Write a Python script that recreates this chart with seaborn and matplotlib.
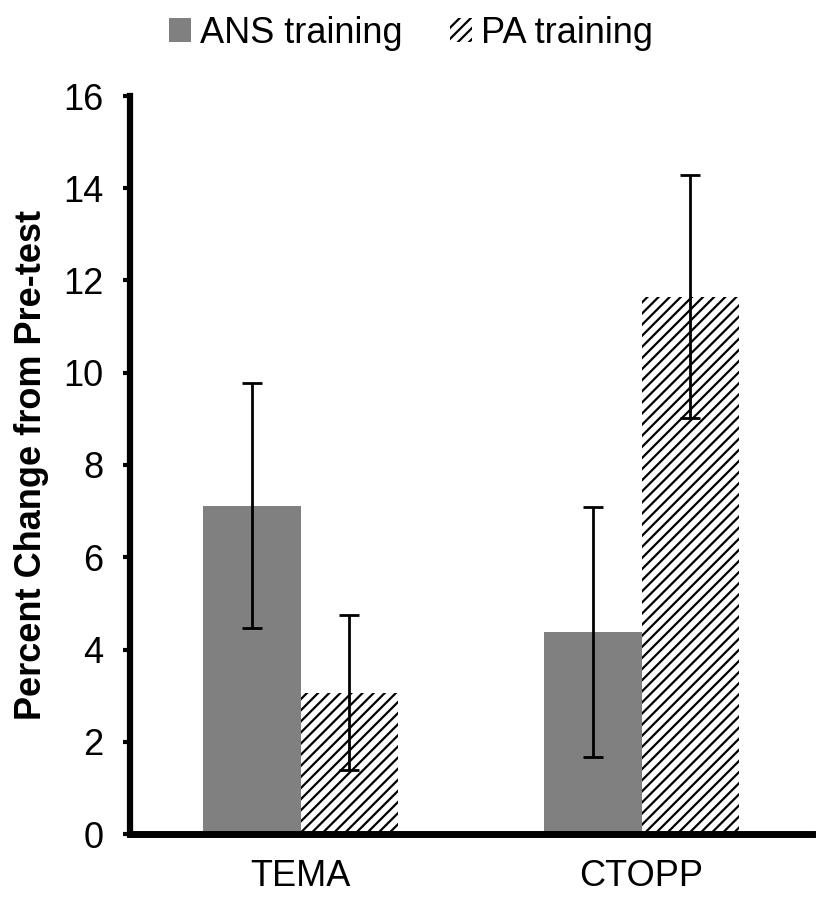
import numpy as np
import pandas as pd
import matplotlib
matplotlib.use('Agg')
import matplotlib.pyplot as plt
import seaborn as sns

# values
tests = ['TEMA', 'CTOPP']
groups = ['ANS training', 'PA training']
ans_mean = [7.12, 4.38]
pa_mean = [3.06, 11.65]
ans_err = [2.66, 2.72]
pa_err = [1.68, 2.63]
yticks = [0, 2, 4, 6, 8, 10, 12, 14, 16]

sns.set_style('white')
plt.rcParams['font.family'] = ['Liberation Sans', 'DejaVu Sans']
plt.rcParams['hatch.linewidth'] = 1.6
plt.rcParams['text.color'] = 'black'
plt.rcParams['axes.labelcolor'] = 'black'
plt.rcParams['xtick.color'] = 'black'
plt.rcParams['ytick.color'] = 'black'

df = pd.DataFrame({
    'test': tests * 2,
    'group': [groups[0]] * 2 + [groups[1]] * 2,
    'value': ans_mean + pa_mean,
})

fig, ax = plt.subplots(figsize=(8.27, 9.05), dpi=100)
fig.subplots_adjust(left=130 / 827, right=812 / 827, bottom=1 - 834 / 905, top=1 - 96 / 905)

sns.barplot(data=df, x='test', y='value', hue='group', order=tests, hue_order=groups,
            palette=['#808080', 'white'], width=0.57, errorbar=None, ax=ax, saturation=1)

# style bars: PA bars get dense diagonal hatch
for cont, g in zip(ax.containers, groups):
    for p in cont:
        p.set_linewidth(0)
        if g == 'PA training':
            p.set_hatch('///')
            p.set_edgecolor('black')

# error bars at bar centres
for cont, e in zip(ax.containers, [ans_err, pa_err]):
    xs = [p.get_x() + p.get_width() / 2 for p in cont]
    hs = [p.get_height() for p in cont]
    ax.errorbar(xs, hs, yerr=e, fmt='none', ecolor='black', elinewidth=2,
                capsize=7, capthick=2, zorder=5)

ax.set_ylim(0, 16)
ax.set_xlim(-0.5, 1.5)
ax.set_yticks(yticks)
ax.set_yticklabels([str(t) for t in yticks], fontsize=26)
ax.tick_params(axis='x', labelsize=26, length=0, pad=18)
ax.tick_params(axis='y', length=5, width=3, direction='out', left=True, pad=14)
ax.set_xlabel('')
ax.set_ylabel('Percent Change from Pre-test', fontsize=26, fontweight='bold', labelpad=10)

sns.despine(ax=ax)
ax.spines['left'].set_linewidth(4.5)
ax.spines['bottom'].set_linewidth(5)
ax.spines['left'].set_color('black')
ax.spines['bottom'].set_color('black')

leg = ax.legend(loc='center', bbox_to_anchor=(0.412, 1.085), ncol=2, frameon=False,
                fontsize=26, handlelength=0.62, handleheight=0.62, handletextpad=0.25,
                columnspacing=1.3)
for h, g in zip(leg.legend_handles, groups):
    h.set_linewidth(0)
    if g == 'PA training':
        h.set_hatch('///')
        h.set_edgecolor('black')

fig.savefig('out.png', dpi=100)
